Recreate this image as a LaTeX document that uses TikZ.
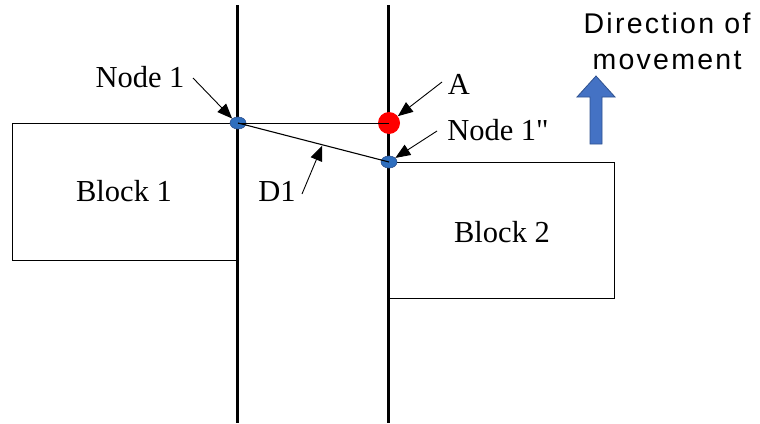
\documentclass[tikz,border=0pt]{standalone}
\usepackage{fontspec}
\setmainfont{Liberation Serif}
\newfontfamily\dirfont{Liberation Sans}
\usetikzlibrary{shapes.geometric,arrows.meta,calc}
\definecolor{dotblue}{RGB}{46,110,190}
\definecolor{arrowfill}{RGB}{68,114,196}
\definecolor{arrowline}{RGB}{47,82,143}
\tikzset{
  wall/.style={line width=3pt,black},
  blockbox/.style={draw,line width=0.8pt},
  bluedot/.style={ellipse,fill=dotblue,draw=arrowline,line width=0.6pt,minimum width=16pt,minimum height=12pt,inner sep=0pt},
  reddot/.style={circle,fill=red,minimum size=22pt,inner sep=0pt},
  lbl/.style={font=\fontsize{30.5}{33}\selectfont,inner sep=0pt},
  pointer/.style={line width=0.9pt,-{Triangle[length=15pt,width=12pt]}},
}
\begin{document}
\begin{tikzpicture}[x=1pt,y=-1pt]
\useasboundingbox (0,0) rectangle (760,423);
% blocks
\draw[blockbox] (237,123) -- (12,123) -- (12,260) -- (237,260);
\draw[blockbox] (388,162) -- (614,162) -- (614,298) -- (388,298);
\node[lbl] (b1) at (124,191) {Block 1};
\node[lbl] (b2) at (502,232) {Block 2};
% walls
\draw[wall] (237,5) -- (237,423);
\draw[wall] (388,5) -- (388,423);
% dots
\node[bluedot] (n1) at (238,123) {};
\node[reddot] (A) at (389,123) {};
\node[bluedot] (n1pp) at (389,162) {};
\draw[line width=0.8pt] (n1.center) -- (A.center);
\draw[line width=1.1pt] (n1.center) -- (n1pp.center);
% labels
\node[lbl] (ln1) at (140,77) {Node 1};
\node[lbl] (lA) at (459,84) {A};
\node[lbl] (ln1pp) at (498,130) {Node 1\textquotedbl};
\node[lbl] (lD1) at (277,191) {D1};
\coordinate (s1) at (193,78);
\coordinate (sA) at (442,82);
\coordinate (sn) at (437,131);
\coordinate (sD) at (302,194);
\coordinate (tD) at ($(n1.center)!0.56!(n1pp.center)$);
\draw[pointer] (s1) -- (n1.north west);
\draw[pointer] (sA) -- (A);
\draw[pointer] (sn) -- (n1pp);
\draw[pointer,shorten >=1pt] (sD) -- (tD);
% direction arrow
\draw[fill=arrowfill,draw=arrowline,line width=0.8pt]
  (590,144) -- (602,144) -- (602,97) -- (615,97) -- (596,76) -- (577,97) -- (590,97) -- cycle;
\node[font=\dirfont\fontsize{28.5}{30}\selectfont,align=center,inner sep=0pt] (dir) at (667,41)
  {\addfontfeature{LetterSpace=8}Direction of\\[6pt]\addfontfeature{LetterSpace=8}movement};
\end{tikzpicture}
\end{document}
